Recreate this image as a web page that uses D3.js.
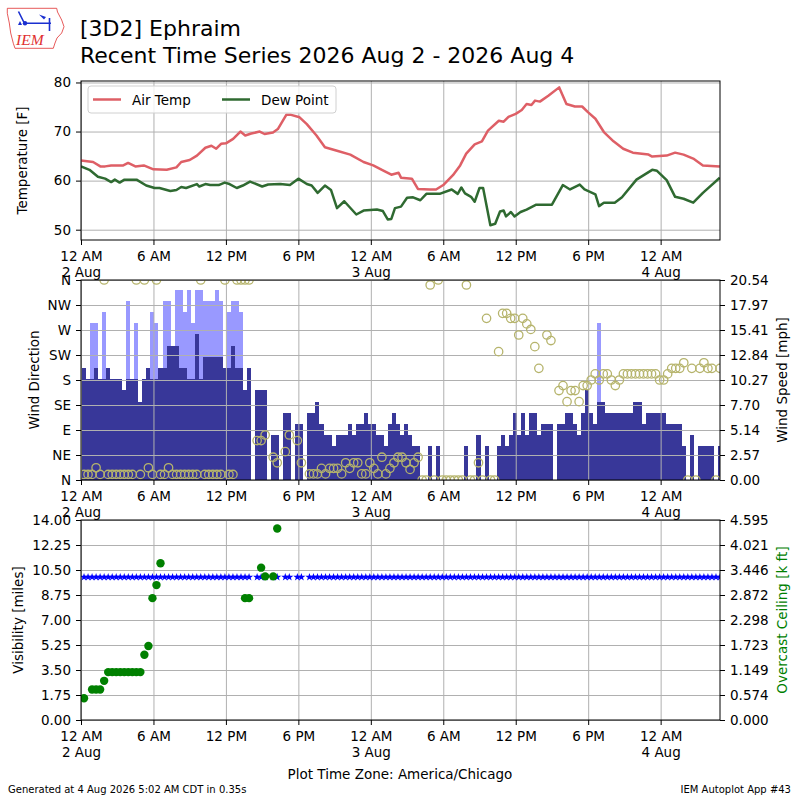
<!doctype html>
<html lang="en">
<head>
<meta charset="utf-8">
<title>[3D2] Ephraim - recent time series</title>
<script src="https://cdn.jsdelivr.net/npm/d3@7"></script>
<style type="text/css">

	body { margin: 0; background: #fff; }
	svg text { font-family: "DejaVu Sans", sans-serif; fill: #000; }
	.grid .domain { display: none; }
	.grid line { stroke: #b0b0b0; stroke-width: 1; }
	.axis .domain { display: none; }
	.axis line { stroke: #000; stroke-width: 1; }

</style>
</head>
<body>

<svg id="chart" width="800" height="800"></svg>

<script>


/* Data */
/* ====================== */

// Temperature and dew point, hours after 2 Aug 00:00 and deg F
var tempHours = [0, 1, 1.6, 2, 2.5, 3.5, 3.9, 4.5, 5.2, 6, 7.1, 7.9, 8.3, 9, 9.6, 10.3, 10.8, 11.2, 11.6, 12,
	12.6, 13.2, 13.6, 14.1, 14.8, 15.2, 15.9, 16.3, 17, 17.4, 18.1, 18.7, 19.5, 20.2, 21.2, 22.3, 23.4, 24.2, 25, 25.7,
	26.3, 26.5, 27.4, 27.9, 28.9, 29.4, 30, 30.8, 31.4, 31.9, 32.6, 33.2, 33.7, 34.6, 35, 35.4, 36, 36.5, 36.9, 37.3,
	37.6, 38, 38.7, 39.6, 40.2, 40.9, 41.5, 42, 42.6, 43.3, 44.1, 44.9, 45.7, 47, 47.3, 48.5, 49.2, 49.9, 50.7, 51.5, 52.9];
var tempF = [64.1, 63.8, 62.9, 62.9, 63.1, 63.1, 63.6, 62.9, 63.1, 62.3, 62.2, 62.7, 63.8, 64.2, 65.1, 66.7, 67.1, 66.5, 67.5, 67.6,
	68.5, 70.0, 69.2, 69.6, 70.0, 69.5, 69.8, 70.5, 73.4, 73.4, 72.9, 71.5, 69.2, 66.8, 66.1, 65.3, 63.8, 63.1, 62.1, 61.2,
	61.6, 60.6, 60.4, 58.3, 58.2, 58.2, 59.1, 61.1, 63.1, 65.5, 67.4, 68.0, 70.2, 72.2, 72.0, 73.0, 73.6, 74.4, 75.6, 75.4,
	76.3, 76.1, 77.3, 79.0, 75.6, 75.1, 75.1, 73.9, 72.6, 69.9, 68.0, 66.5, 65.7, 65.3, 64.9, 65.1, 65.7, 65.3, 64.5, 63.1, 62.9];

var dewHours = [0, 0.7, 1.4, 2, 2.5, 2.8, 3.2, 3.6, 4.6, 5.4, 6.1, 6.5, 7.4, 7.9, 8.3, 8.7, 9.6, 9.8, 10.3, 10.7,
	11.4, 11.9, 12.3, 12.9, 13.4, 14, 15, 15.5, 16.5, 17.3, 18, 18.7, 19.1, 19.6, 20.2, 20.7, 21.2, 21.8, 22.8, 23.4,
	24.5, 25, 25.4, 25.7, 26, 26.5, 27, 27.5, 28.1, 28.6, 29.7, 30.7, 31.2, 31.5, 31.8, 32.3, 32.6, 33, 33.3, 33.9,
	34.3, 34.7, 35, 35.2, 35.6, 35.9, 36.4, 36.9, 37.7, 39, 39.9, 40.5, 41.3, 41.7, 42.6, 42.9, 43.3, 44.2, 44.8, 46,
	47.3, 47.7, 48.5, 49.2, 49.9, 50.7, 51.5, 52.9];
var dewF = [62.9, 62.2, 60.8, 60.4, 59.7, 60.2, 59.6, 60.2, 60.2, 59.0, 58.5, 58.5, 57.9, 58.1, 58.7, 58.5, 59.3, 58.8, 59.3, 59.1,
	59.1, 59.6, 59.3, 58.5, 59.0, 59.8, 58.8, 59.2, 59.3, 59.1, 60.4, 59.3, 59.0, 57.5, 59.0, 58.1, 54.4, 55.8, 53.1, 53.9,
	54.1, 53.8, 52.1, 52.2, 54.4, 54.7, 56.5, 56.6, 56.0, 57.3, 57.3, 58.2, 57.3, 58.6, 57.4, 56.7, 55.7, 58.5, 58.5, 50.9,
	51.2, 53.7, 53.9, 52.7, 53.6, 52.7, 53.6, 54.1, 55.1, 55.1, 59.1, 58.2, 59.2, 58.2, 57.2, 54.8, 55.5, 55.5, 56.6, 60.2,
	62.2, 62.0, 60.1, 56.7, 56.3, 55.5, 57.5, 60.6];

// One entry per 20 minute report (00:15, 00:35, 00:55 ...), null = missing
var windKt = [
	10, 9, 9, 10, 9, 9, 10, 9, 9, 9,
	8, 9, 9, 9, 7, 9, 10, 9, 9, 10,
	10, 12, 12, 12, 10, 10, 9, 9, 13, 9,
	11, 11, 11, 11, 11, 10, 10, 12, 10, 10,
	8, 10, null, 8, 8, 8, null, 4, 4, null,
	6, 6, null, 5, 5, null, 6, 6, 7, 5,
	4, 4, 3, 4, 4, 4, 5, 4, 5, 5,
	6, 5, 5, 4, 4, 3, 5, 6, 5, 4,
	5, 4, 3, 3, 0, 0, 3, 0, 3, 0,
	0, 0, 0, 0, 0, 3, 0, 0, 4, 0,
	3, 0, 0, 3, 4, 3, 4, 6, 4, 6,
	4, 6, 6, 4, 5, 5, 5, null, 5, 5,
	6, 6, 5, 4, 6, 8, 6, 5, 7, 7,
	6, 6, 6, 6, 6, 6, 6, 7, 7, 5,
	6, 6, 6, 6, 6, 5, 5, 5, 5, 3,
	0, 4, 0, 3, 3, 3, 3, 0, 3];

var windDir = [
	10, 10, 10, 22, 10, 360, 10, 10, 10, 10,
	10, 10, 10, 360, 10, 360, 22, 10, 360, 10,
	10, 22, 10, 10, 10, 10, 10, 10, 10, 360,
	10, 10, 10, 10, 10, 360, 10, 10, 360, 360,
	360, 360, null, 71, 71, 81, null, 41, 31, null,
	51, 81, null, 71, 31, null, 11, 11, 11, 21,
	11, 21, 21, 21, 11, 31, 21, 31, 31, 11,
	11, 31, 21, 11, 41, 11, 21, 31, 41, 41,
	31, 19, 31, 41, 0, 0, 351, 0, 360, 0,
	0, 0, 0, 0, 0, 351, 0, 0, 31, 0,
	291, 0, 0, 231, 300, 300, 291, 291, 261, 291,
	281, 271, 240, 201, null, 261, 251, null, 161, 170,
	141, 161, 161, 141, 170, 170, 180, 191, 180, 191,
	191, 180, 170, 180, 191, 191, 191, 191, 191, 191,
	191, 191, 191, 180, 180, 191, 201, 201, 201, 211,
	0, 201, 0, 201, 211, 201, 201, 0, 201];

var gustObs = [2, 3, 5, 11, 13, 17, 18, 20, 21, 23, 24, 25, 26, 27, 28, 29, 30, 31, 32, 33, 34, 36, 37, 38, 39, 128];
var gustKt  = [14, 14, 15, 16, 14, 15, 14, 16, 16, 17, 17, 15, 17, 14, 17, 17, 16, 16, 16, 17, 16, 15, 16, 16, 15, 14];

var visMiles = [
	10, 10, 10, 10, 10, 10, 10, 10, 10, 10,
	10, 10, 10, 10, 10, 10, 10, 10, 10, 10,
	10, 10, 10, 10, 10, 10, 10, 10, 10, 10,
	10, 10, 10, 10, 10, 10, 10, 10, 10, 10,
	10, 10, null, 10, 10, 10, null, 10, 10, null,
	10, 10, null, 10, 10, null, 10, 10, 10, 10,
	10, 10, 10, 10, 10, 10, 10, 10, 10, 10,
	10, 10, 10, 10, 10, 10, 10, 10, 10, 10,
	10, 10, 10, 10, 10, 10, 10, 10, 10, 10,
	10, 10, 10, 10, 10, 10, 10, 10, 10, 10,
	10, 10, 10, 10, 10, 10, 10, 10, 10, 10,
	10, 10, 10, 10, 10, 10, 10, 10, 10, 10,
	10, 10, 10, 10, 10, 10, 10, 10, 10, 10,
	10, 10, 10, 10, 10, 10, 10, 10, 10, 10,
	10, 10, 10, 10, 10, 10, 10, 10, 10, 10,
	10, 10, 10, 10, 10, 10, 10, 10, 10];

var ceilObs = [0, 2, 3, 4, 5, 6, 7, 8, 9, 10, 11, 12, 13, 14, 15, 16, 17, 18, 19, 40, 41, 44, 45, 47, 48];
var ceilKft = [0.5, 0.7, 0.7, 0.7, 0.9, 1.1, 1.1, 1.1, 1.1, 1.1, 1.1, 1.1, 1.1, 1.1, 1.5, 1.7, 2.8, 3.1, 3.6, 2.8, 2.8, 3.5, 3.3, 3.3, 4.4];

// Axis ticks
var tempTicks = [50, 60, 70, 80];
var dirTicks = [0, 45, 90, 135, 180, 225, 270, 315, 360];
var dirLabels = ['N', 'NE', 'E', 'SE', 'S', 'SW', 'W', 'NW', 'N'];
var speedMax = 20.541;
var visMax = 14;
var ceilMax = 4.5952;

var KT2MPH = 1.15078;



/* Setting up */
/* ========== */

var svg = d3.select('#chart');

var L = 81, R = 720;
var topPanel = [81, 240];
var windPanel = [280, 480];
var visPanel = [520, 720];

var t0 = new Date(2026, 7, 2, 0, 0);
var tEnd = new Date(2026, 7, 4, 4, 55);

function obTime(i) { return d3.timeMinute.offset(t0, 15 + 20 * i); }
function hourTime(h) { return new Date(t0.getTime() + h * 3600e3); }

var x = d3.scaleTime().domain([t0, tEnd]).range([L, R]);
var xTicks = d3.timeHour.every(6).range(t0, tEnd);

var yTemp = d3.scaleLinear().domain([47.9, 80.3]).range([topPanel[1], topPanel[0]]);
var yDir = d3.scaleLinear().domain([0, 360]).range([windPanel[1], windPanel[0]]);
var ySpeed = d3.scaleLinear().domain([0, speedMax]).range([windPanel[1], windPanel[0]]);
var yVis = d3.scaleLinear().domain([0, visMax]).range([visPanel[1], visPanel[0]]);
var yCeil = d3.scaleLinear().domain([0, ceilMax]).range([visPanel[1], visPanel[0]]);

var speedTicks = d3.range(9).map(function(k) { return k * speedMax / 8; });
var visTicks = d3.range(9).map(function(k) { return k * visMax / 8; });
var ceilTicks = d3.range(9).map(function(k) { return k * ceilMax / 8; });

var obs = windKt.map(function(kt, i) {
	return { t: obTime(i), kt: kt, dir: windDir[i], vis: visMiles[i] };
});



/* Helpers */
/* ======= */

function hourLabel(d) {
	var h = d.getHours();
	return (h % 12 === 0 ? 12 : h % 12) + (h < 12 ? ' AM' : ' PM');
}

function clip(id, p) {
	svg.append('clipPath').attr('id', id)
		.append('rect').attr('x', L).attr('y', p[0]).attr('width', R - L).attr('height', p[1] - p[0]);
	return svg.append('g').attr('clip-path', 'url(#' + id + ')');
}

function drawGrid(p, yScale, yVals) {
	svg.append('g').attr('class', 'grid').attr('transform', 'translate(0,' + p[1] + ')')
		.call(d3.axisBottom(x).tickValues(xTicks).tickSize(-(p[1] - p[0])).tickFormat(''));
	svg.append('g').attr('class', 'grid').attr('transform', 'translate(' + L + ',0)')
		.call(d3.axisLeft(yScale).tickValues(yVals).tickSize(-(R - L)).tickFormat(''));
}

function drawFrame(p) {
	svg.append('rect').attr('x', L).attr('y', p[0]).attr('width', R - L).attr('height', p[1] - p[0])
		.attr('fill', 'none').attr('stroke', '#000').attr('stroke-width', 1);
}

function styleAxis(ax) {
	ax.attr('class', 'axis').attr('font-size', 13.5).attr('font-family', '"DejaVu Sans", sans-serif');
	return ax;
}

function drawXAxis(p) {
	var ax = styleAxis(svg.append('g').attr('transform', 'translate(0,' + p[1] + ')')
		.call(d3.axisBottom(x).tickValues(xTicks).tickSize(5).tickPadding(5)));
	ax.selectAll('.tick text').attr('y', null).attr('dy', null).text(null)
		.each(function(d) {
			var t = d3.select(this);
			t.append('tspan').attr('x', 0).attr('y', 20.5).text(hourLabel(d));
			if (d.getHours() === 0) {
				t.append('tspan').attr('x', 0).attr('y', 36.5).text(d.getDate() + ' Aug');
			}
		});
}

function drawYLeft(scale, vals, fmt) {
	styleAxis(svg.append('g').attr('transform', 'translate(' + L + ',0)')
		.call(d3.axisLeft(scale).tickValues(vals).tickFormat(fmt).tickSize(5).tickPadding(5)));
}

function drawYRight(scale, vals, fmt) {
	styleAxis(svg.append('g').attr('transform', 'translate(' + R + ',0)')
		.call(d3.axisRight(scale).tickValues(vals).tickFormat(fmt).tickSize(5).tickPadding(5)));
}

function yLabel(text, xPos, p, color) {
	svg.append('text')
		.attr('transform', 'translate(' + xPos + ',' + (p[0] + p[1]) / 2 + ') rotate(-90)')
		.attr('text-anchor', 'middle').attr('font-size', 13.5)
		.style('fill', color || '#000')
		.text(text);
}



/* Header */
/* ====== */

function drawLogo() {
	var g = svg.append('g');
	g.append('path')
		.attr('d', 'M7.3,8.3 L56.7,8.3 L57.5,12 L61.7,20 L64,26.7 L61.7,33 L57,38 L55,43 L53.3,48.3 L15,48.3 L13.3,43.3 L10.7,33 L9.3,23 L7.3,13.3 Z')
		.attr('fill', 'none').attr('stroke', '#e03030').attr('stroke-width', 0.8);
	g.append('path')
		.attr('d', 'M25,23.3 L51,23.3 M18.5,11.5 L24,22.5 M49.5,18 L49.5,31')
		.attr('stroke', '#1a2fd0').attr('stroke-width', 1.6).attr('fill', 'none');
	g.append('path').attr('d', 'M39,14.5 L46,17 L44,19.5 Z').attr('fill', '#1a2fd0');
	g.append('circle').attr('cx', 25).attr('cy', 23.3).attr('r', 2.2).attr('fill', '#1a2fd0');
	g.append('path').attr('d', 'M20,21 L22,25 L18,25 Z').attr('fill', '#1a2fd0');
	g.append('text').attr('x', 16).attr('y', 45)
		.style('font-family', '"Liberation Serif", serif').style('font-style', 'italic')
		.style('fill', '#e03030').attr('font-size', 15.5).text('IEM');
}

drawLogo();

svg.append('text').attr('x', 80).attr('y', 36).attr('font-size', 22).text('[3D2] Ephraim');
svg.append('text').attr('x', 80).attr('y', 63).attr('font-size', 22).text('Recent Time Series 2026 Aug 2 - 2026 Aug 4');



/* Temperature panel */
/* ================= */

drawGrid(topPanel, yTemp, tempTicks);

var tempLayer = clip('clip-temp', topPanel);
var line = d3.line()
	.x(function(d) { return x(hourTime(d[0])); })
	.y(function(d) { return yTemp(d[1]); });

tempLayer.append('path').datum(d3.zip(dewHours, dewF))
	.attr('d', line).attr('fill', 'none')
	.attr('stroke', '#2f6a31').attr('stroke-width', 2.5).attr('stroke-linejoin', 'round');
tempLayer.append('path').datum(d3.zip(tempHours, tempF))
	.attr('d', line).attr('fill', 'none')
	.attr('stroke', '#de5f66').attr('stroke-width', 2.5).attr('stroke-linejoin', 'round');

drawFrame(topPanel);
drawXAxis(topPanel);
drawYLeft(yTemp, tempTicks, d3.format('d'));
yLabel('Temperature [F]', 27, topPanel);

// Legend
var legend = svg.append('g');
legend.append('rect').attr('x', 88).attr('y', 86).attr('width', 248).attr('height', 27).attr('rx', 3)
	.attr('fill', '#fff').attr('fill-opacity', 0.8).attr('stroke', '#d0d0d0');
[['Air Temp', '#de5f66', 93], ['Dew Point', '#2f6a31', 222]].forEach(function(item) {
	legend.append('line').attr('x1', item[2]).attr('x2', item[2] + 28).attr('y1', 99.5).attr('y2', 99.5)
		.attr('stroke', item[1]).attr('stroke-width', 2.5);
	legend.append('text').attr('x', item[2] + 39).attr('y', 104.5).attr('font-size', 13.5).text(item[0]);
});



/* Wind panel */
/* ========== */

var windLayer = clip('clip-wind', windPanel);

function barX(d) { return x(d3.timeMinute.offset(d.t, -10)); }
function barW(d) { return x(d3.timeMinute.offset(d.t, 10)) - barX(d); }

var gusts = gustObs.map(function(i, k) { return { t: obTime(i), kt: gustKt[k] }; });

windLayer.selectAll('rect.gust').data(gusts).join('rect')
	.attr('class', 'gust')
	.attr('x', barX).attr('width', barW)
	.attr('y', function(d) { return ySpeed(d.kt * KT2MPH); })
	.attr('height', function(d) { return windPanel[1] - ySpeed(d.kt * KT2MPH); })
	.attr('fill', '#9999ff').attr('shape-rendering', 'crispEdges');

windLayer.selectAll('rect.speed').data(obs.filter(function(d) { return d.kt; })).join('rect')
	.attr('class', 'speed')
	.attr('x', barX).attr('width', barW)
	.attr('y', function(d) { return ySpeed(d.kt * KT2MPH); })
	.attr('height', function(d) { return windPanel[1] - ySpeed(d.kt * KT2MPH); })
	.attr('fill', '#383799').attr('shape-rendering', 'crispEdges');

drawGrid(windPanel, yDir, dirTicks);

var dirLayer = clip('clip-dir', windPanel);
dirLayer.selectAll('circle').data(obs.filter(function(d) { return d.dir !== null; })).join('circle')
	.attr('cx', function(d) { return x(d.t); })
	.attr('cy', function(d) { return yDir(d.dir); })
	.attr('r', 4.2)
	.attr('fill', 'none').attr('stroke', '#b6b46c').attr('stroke-width', 1.3);

drawFrame(windPanel);
drawXAxis(windPanel);
drawYLeft(yDir, dirTicks, function(d, i) { return dirLabels[i]; });
drawYRight(ySpeed, speedTicks, d3.format('.2f'));
yLabel('Wind Direction', 39, windPanel);
yLabel('Wind Speed [mph]', 787, windPanel);



/* Visibility and ceiling panel */
/* ============================ */

drawGrid(visPanel, yVis, visTicks);

var visLayer = clip('clip-vis', visPanel);
var visLine = d3.line()
	.defined(function(d) { return d.vis !== null; })
	.x(function(d) { return x(d.t); })
	.y(function(d) { return yVis(d.vis); });

visLayer.append('path').datum(obs).attr('d', visLine)
	.attr('fill', 'none').attr('stroke', '#0000ff').attr('stroke-width', 1);

visLayer.selectAll('path.star').data(obs.filter(function(d) { return d.vis !== null; })).join('path')
	.attr('class', 'star')
	.attr('transform', function(d) { return 'translate(' + x(d.t) + ',' + yVis(d.vis) + ')'; })
	.attr('d', d3.symbol(d3.symbolStar, 20))
	.attr('fill', '#0000ff');

var ceil = ceilObs.map(function(i, k) { return { t: obTime(i), kft: ceilKft[k] }; });
visLayer.selectAll('circle').data(ceil).join('circle')
	.attr('cx', function(d) { return x(d.t); })
	.attr('cy', function(d) { return yCeil(d.kft); })
	.attr('r', 4.2)
	.attr('fill', '#008000');

drawFrame(visPanel);
drawXAxis(visPanel);
drawYLeft(yVis, visTicks, d3.format('.2f'));
drawYRight(yCeil, ceilTicks, d3.format('.3f'));
yLabel('Visibility [miles]', 23, visPanel);
yLabel('Overcast Ceiling [k ft]', 787, visPanel, '#008000');



/* Footer */
/* ====== */

svg.append('text').attr('x', 400).attr('y', 779).attr('text-anchor', 'middle').attr('font-size', 13.5)
	.text('Plot Time Zone: America/Chicago');
svg.append('text').attr('x', 8).attr('y', 793).attr('font-size', 10)
	.text('Generated at 4 Aug 2026 5:02 AM CDT in 0.35s');
svg.append('text').attr('x', 791).attr('y', 793).attr('text-anchor', 'end').attr('font-size', 10)
	.text('IEM Autoplot App #43');


</script>

</body>
</html>
